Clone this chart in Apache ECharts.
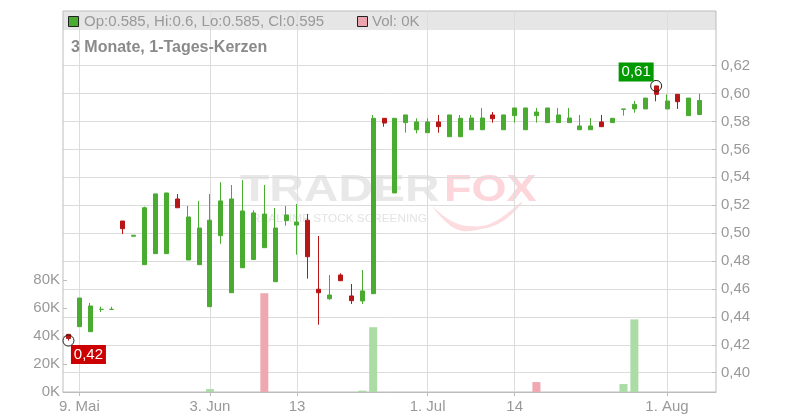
<!DOCTYPE html>
<html><head><meta charset="utf-8">
<script src="https://cdn.jsdelivr.net/npm/echarts@6/dist/echarts.min.js"></script>
<style>html,body{margin:0;padding:0;background:#fff}#c{width:800px;height:420px}</style>
</head><body><div id="c"></div>
<script>
// ---- data ----
const slotCount = 60; // 59 trading candles + one empty slot at the right edge
const categories = Array.from({length: slotCount}, (_, i) => 'K' + (i + 1));

const openP  = [.4275,.433,.4294,.4454,.4454,.5087,.4978,.4774,.4853,.4853,.5245,.4808,.4774,.4473,.4982,.4573,.4752,.4811,.4896,.4652,.5089,.5058,.5093,.4598,.453,.470,.455,.4514,.4566,.5823,.5288,.5792,.5741,.572,.5797,.5691,.5691,.5741,.5741,.5847,.5741,.5842,.5741,.5842,.5792,.5792,.5792,.5741,.5741,.5797,.5792,.5887,.589,.589,.6055,.589,.5995,.5842,.585];
const closeP = [.4245,.4535,.4478,.4454,.4454,.5032,.4985,.5182,.5281,.5288,.5182,.5116,.5037,.5093,.5231,.5245,.5159,.5145,.5137,.5037,.513,.508,.4831,.4573,.4557,.4659,.4516,.4586,.5823,.5789,.5823,.5847,.5797,.5797,.5763,.5847,.5823,.5825,.5825,.582,.5847,.5897,.5897,.5868,.5897,.5847,.5825,.5768,.5768,.5763,.5823,.589,.5923,.5968,.5995,.5947,.5942,.5968,.595];
const lowP   = [.423,.433,.4294,.4435,.4454,.4994,.4978,.4774,.4853,.4853,.5182,.4808,.4774,.4473,.4924,.4573,.4752,.4811,.4896,.4652,.5053,.4846,.4674,.4344,.4523,.4659,.4492,.4492,.4566,.5763,.5288,.572,.5715,.572,.572,.5691,.5691,.5741,.5741,.5792,.5741,.5792,.5741,.5792,.5792,.5792,.5792,.5741,.5741,.5763,.5792,.5842,.5863,.589,.5945,.589,.589,.5842,.585];
const highP  = [.4275,.4535,.450,.4473,.4473,.5087,.4985,.519,.5281,.5288,.528,.5195,.523,.528,.5365,.5345,.538,.5164,.5345,.518,.5195,.5209,.5137,.498,.470,.4712,.4636,.4736,.5847,.5823,.5823,.5847,.5823,.5823,.5847,.5847,.5847,.5847,.5897,.5868,.5847,.5897,.5897,.5897,.5897,.5897,.5897,.5847,.5825,.5847,.5823,.589,.5947,.5968,.6055,.5995,.5995,.5968,.600];

const volumeUp   = [0,0,0,0,0, 0,0,0,0,0, 0,0,0,2100,0, 0,0,0,0,0, 0,0,0,0,0, 0,0,1000,46400,0, 0,0,0,0,0, 0,0,0,0,0, 0,0,0,0,0, 0,0,0,0,0, 0,5700,52000,0,0, 0,0,0,0];
const volumeDown = [0,0,0,0,0, 0,0,0,0,0, 0,0,0,0,0, 0,0,0,70700,0, 0,0,0,0,0, 0,0,0,0,0, 0,0,0,0,0, 0,0,0,0,0, 0,0,0,7100,0, 0,0,0,0,0, 0,0,0,0,0, 0,0,0,0];

const tickIndex = [1, 13, 21, 33, 41, 55];
const tickText  = ['9. Mai', '3. Jun', '13', '1. Jul', '14', '1. Aug'];
const volumeTicks = [0, 20000, 40000, 60000, 80000];
const titleText = '3 Monate, 1-Tages-Kerzen';

// ---- derived ----
const candles = openP.map((o, i) => [o, closeP[i], lowP[i], highP[i]]);
const last = openP.length - 1;
let minIdx = 0, maxIdx = 0;
lowP.forEach((v, i) => { if (v < lowP[minIdx]) minIdx = i; });
highP.forEach((v, i) => { if (v > highP[maxIdx]) maxIdx = i; });
const fmt2 = v => (Math.round(v * 100 + 1e-9) / 100).toFixed(2).replace('.', ',');
const lastVol = volumeUp[last] + volumeDown[last];

const FONT = "'Liberation Sans', Arial, sans-serif";
const GREEN = '#4aab31', RED = '#b71616';
const L = 63, R = 84, B = 28;

const chart = echarts.init(document.getElementById('c'), null, {renderer: 'canvas'});
chart.setOption({
  animation: false,
  backgroundColor: '#fff',
  textStyle: {fontFamily: FONT},
  grid: [
    {left: L, right: R, top: 11, bottom: B, show: true, borderColor: '#bdbdbd', borderWidth: 1, backgroundColor: 'rgba(0,0,0,0)', z: 1},
    {left: L, right: R, top: 65.7, bottom: B},
    {left: L, right: R, top: 280.3, bottom: B}
  ],
  xAxis: [
    {gridIndex: 0, type: 'category', data: categories, boundaryGap: true,
      axisLine: {show: true, lineStyle: {color: '#bdbdbd'}},
      axisTick: {show: true, alignWithLabel: true, interval: i => tickIndex.includes(i), length: 4, lineStyle: {color: '#bdbdbd'}},
      axisLabel: {interval: i => tickIndex.includes(i), formatter: (v, i) => { const k = tickIndex.indexOf(i); return k >= 0 ? tickText[k] : ''; }, color: '#999', fontSize: 15, margin: 7, fontFamily: FONT},
      splitLine: {show: false}},
    {gridIndex: 1, type: 'category', data: categories, show: false},
    {gridIndex: 2, type: 'category', data: categories, show: false}
  ],
  yAxis: [
    {gridIndex: 0, type: 'value', min: 0.38617, max: 0.65919, show: false},
    {gridIndex: 1, type: 'value', position: 'right', min: 0.38617, max: 0.62, minInterval: 0.02, maxInterval: 0.02, splitNumber: 12,
      axisLine: {show: false},
      axisTick: {show: true, inside: true, length: 4, lineStyle: {color: '#bdbdbd'}},
      axisLabel: {color: '#999', fontSize: 15, margin: 5, fontFamily: FONT,
        formatter: v => { const q = v / 0.02; return Math.abs(q - Math.round(q)) < 1e-6 ? v.toFixed(2).replace('.', ',') : ''; }},
      splitLine: {show: true, lineStyle: {color: '#dcdcdc', width: 1}}},
    {gridIndex: 2, type: 'value', position: 'left', min: volumeTicks[0], max: volumeTicks[volumeTicks.length - 1], interval: volumeTicks[1] - volumeTicks[0],
      axisLine: {show: false},
      axisTick: {show: true, inside: true, length: 4, lineStyle: {color: '#bdbdbd'}},
      axisLabel: {color: '#999', fontSize: 15, margin: 3, fontFamily: FONT, formatter: v => (v / 1000) + 'K'},
      splitLine: {show: false}}
  ],
  series: [
    {type: 'candlestick', xAxisIndex: 0, yAxisIndex: 0, data: candles, barWidth: 4.5, z: 3,
      itemStyle: {color: GREEN, color0: RED, borderColor: GREEN, borderColor0: RED, borderColorDoji: GREEN, borderWidth: 1},
      markLine: {silent: true, symbol: ['none', 'none'], z: 1, label: {show: false},
        lineStyle: {color: '#dcdcdc', width: 1, type: 'solid'},
        data: tickIndex.map(i => ({xAxis: i}))},
      markPoint: {silent: true, z: 6, data: [
        {coord: [minIdx, lowP[minIdx]], symbol: 'circle', symbolSize: 11, itemStyle: {color: 'rgba(0,0,0,0)', borderColor: '#222', borderWidth: 1}, label: {show: false}},
        {coord: [maxIdx, highP[maxIdx]], symbol: 'circle', symbolSize: 11, itemStyle: {color: 'rgba(0,0,0,0)', borderColor: '#222', borderWidth: 1}, label: {show: false}},
        {coord: [minIdx, lowP[minIdx]], symbol: 'rect', symbolSize: [35, 19], symbolOffset: [20, 14], itemStyle: {color: '#cc0000'},
          label: {show: true, position: 'inside', formatter: fmt2(lowP[minIdx]), color: '#fff', fontSize: 15, fontFamily: FONT}},
        {coord: [maxIdx, highP[maxIdx]], symbol: 'rect', symbolSize: [35, 19], symbolOffset: [-20, -14], itemStyle: {color: '#009a00'},
          label: {show: true, position: 'inside', formatter: fmt2(highP[maxIdx]), color: '#fff', fontSize: 15, fontFamily: FONT}}
      ]}},
    {type: 'bar', name: 'volUp', xAxisIndex: 2, yAxisIndex: 2, data: volumeUp, barWidth: 8, barGap: '-100%', itemStyle: {color: '#abdca6'}, z: 2},
    {type: 'bar', name: 'volDown', xAxisIndex: 2, yAxisIndex: 2, data: volumeDown, barWidth: 8, barGap: '-100%', itemStyle: {color: '#efa7b1'}, z: 2}
  ],
  graphic: {elements: [
    {type: 'rect', z: -1, silent: true, shape: {x: L, y: 11, width: 800 - L - R, height: 19}, style: {fill: '#e6e6e6'}},
    {type: 'rect', z: 10, silent: true, shape: {x: 68.5, y: 16.5, width: 10, height: 10}, style: {fill: '#4aab31', stroke: '#222', lineWidth: 1}},
    {type: 'text', z: 10, silent: true, x: 84, y: 21.5, style: {text: 'Op:' + openP[last] + ', Hi:' + highP[last] + ', Lo:' + lowP[last] + ', Cl:' + closeP[last], fill: '#999', font: '15px ' + FONT, verticalAlign: 'middle'}},
    {type: 'rect', z: 10, silent: true, shape: {x: 357.5, y: 16.5, width: 10, height: 10}, style: {fill: '#eba3ad', stroke: '#222', lineWidth: 1}},
    {type: 'text', z: 10, silent: true, x: 372, y: 21.5, style: {text: 'Vol: ' + (lastVol / 1000) + 'K', fill: '#999', font: '15px ' + FONT, verticalAlign: 'middle'}},
    {type: 'text', z: 10, silent: true, x: 71, y: 47.5, style: {text: titleText, fill: '#8a8a8a', font: 'bold 16px ' + FONT, verticalAlign: 'middle'}},
    // watermark
    {type: 'text', z: 0, silent: true, x: 240, y: 191, scaleX: 1.33, style: {text: 'TRADER', fill: '#e8e8e8', font: 'bold 36px ' + FONT, verticalAlign: 'middle'}},
    {type: 'text', z: 0, silent: true, x: 444, y: 191, scaleX: 1.25, style: {text: 'FOX', fill: '#fcd6da', font: 'bold 36px ' + FONT, verticalAlign: 'middle'}},
    {type: 'polygon', z: 0, silent: true, shape: {points: [[432,206],[448,219],[468,226],[492,223],[522,202],[506,219],[482,229],[456,229]], smooth: 0.4}, style: {fill: '#fcdcdf'}},
    {type: 'text', z: 0, silent: true, x: 252, y: 219, scaleX: 1.07, style: {text: 'REALTIME STOCK SCREENING', fill: '#e3e3e3', font: '11px ' + FONT, verticalAlign: 'middle'}}
  ]}
});
</script>
</body></html>
